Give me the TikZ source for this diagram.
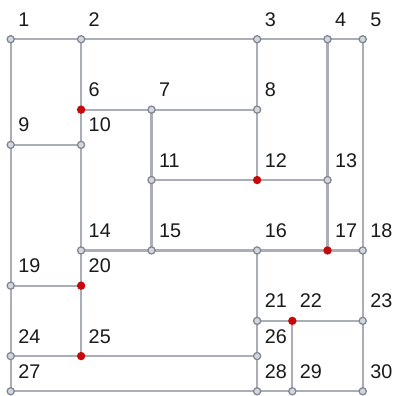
\documentclass[tikz,border=0pt]{standalone}
\usepackage{fontspec}
\setmainfont{Liberation Sans}
\usepackage{tikz}
\usetikzlibrary{positioning}
\definecolor{edgegray}{HTML}{A9AEB8}
\definecolor{ringgray}{HTML}{7F8591}
\definecolor{dotfill}{HTML}{D3D6DC}
\definecolor{hotred}{HTML}{C40A0A}
\definecolor{numdark}{HTML}{1A1A1A}
\tikzset{
  vtx/.style={circle, draw=ringgray, fill=dotfill, line width=1pt,
    minimum size=5.8pt, inner sep=0pt},
  hotvtx/.style={circle, fill=hotred, minimum size=6.8pt, inner sep=0pt},
  wire/.style={edgegray, line width=1.8pt},
  num/.style={anchor=base west, inner sep=0pt, text=numdark,
    font=\fontsize{16}{18}\selectfont},
}
\begin{document}
\begin{tikzpicture}[x=1cm,y=-1cm]
  \useasboundingbox (-0.304,-1.115) rectangle (10.945,10.113);
  % grid points
  \foreach \n/\x/\y in {1/0/0, 2/2/0, 3/7/0, 4/9/0, 5/10/0,
      7/4/2, 8/7/2, 9/0/3, 10/2/3, 11/4/4, 13/9/4,
      14/2/6, 15/4/6, 16/7/6, 18/10/6, 19/0/7,
      21/7/8, 23/10/8, 24/0/9, 26/7/9,
      27/0/10, 28/7/10, 29/8/10, 30/10/10} {
    \coordinate (p\n) at (\x,\y);
  }
  \foreach \n/\x/\y in {6/2/2, 12/7/4, 17/9/6, 20/2/7, 22/8/8, 25/2/9} {
    \coordinate (p\n) at (\x,\y);
  }
  % wires
  \foreach \a/\b in {1/2, 2/3, 3/4, 4/5, 1/9, 9/19, 19/24, 24/27,
      27/28, 28/29, 29/30, 5/18, 18/23, 23/30,
      2/6, 6/10, 10/14, 14/20, 20/25, 9/10, 6/7, 7/8,
      7/11, 11/15, 3/8, 8/12, 11/12, 12/13, 4/13, 13/17,
      14/15, 15/16, 16/17, 17/18, 19/20, 24/25, 25/26,
      16/21, 21/26, 26/28, 21/22, 22/23, 22/29} {
    \draw[wire] (p\a) -- (p\b);
  }
  % dots and numbers
  \foreach \n in {1,2,3,4,5,7,8,9,10,11,13,14,15,16,18,19,21,23,24,26,27,28,29,30} {
    \node[vtx] (v\n) at (p\n) {};
  }
  \foreach \n in {6,12,17,20,22,25} {
    \node[hotvtx] (v\n) at (p\n) {};
  }
  \foreach \n in {1,...,30} {
    \node[num] (t\n) at ([shift={(0.21,-0.37)}]p\n) {\n};
  }
\end{tikzpicture}
\end{document}
